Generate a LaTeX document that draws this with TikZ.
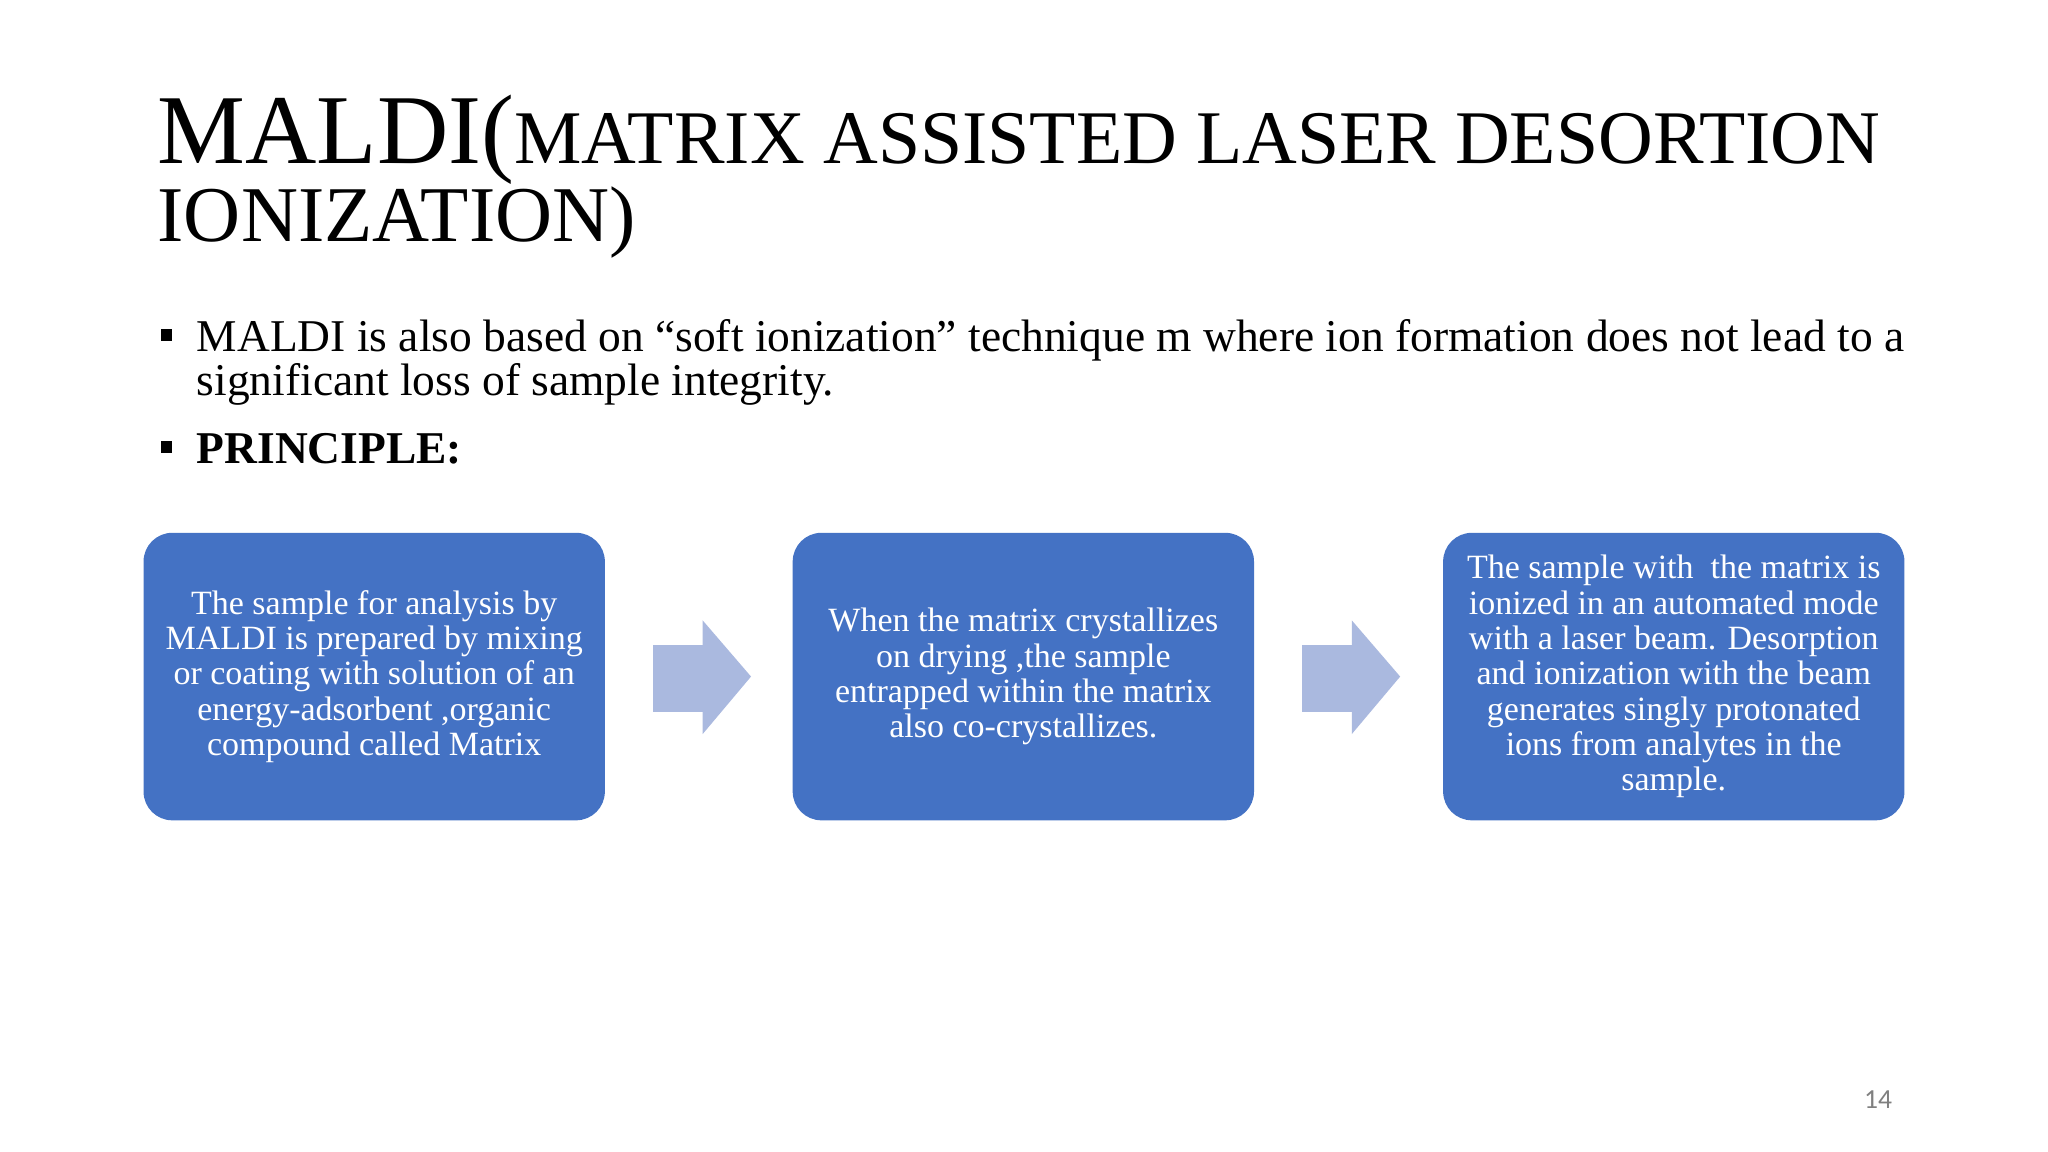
\documentclass[tikz,border=0pt]{standalone}
\usepackage{fontspec}
\setmainfont{Liberation Serif}
\newfontfamily\pgnum{Carlito}
\definecolor{boxblue}{HTML}{4472C4}
\definecolor{arrblue}{HTML}{AAB9DF}
\begin{document}
\begin{tikzpicture}[x=0.01cm,y=-0.01cm,
  stepbox/.style={fill=boxblue,rounded corners=0.22cm,minimum width=3.53cm,minimum height=2.2cm,inner sep=0pt},
  boxtext/.style={text=white,align=center,font=\fontsize{7.4pt}{7.7pt}\selectfont},
  bodytext/.style={anchor=base west,inner sep=0pt,font=\fontsize{9.9pt}{10pt}\selectfont}]
\useasboundingbox[fill=white] (0,0) rectangle (1568,882);
\node[anchor=base west,inner sep=0pt] (t1) at (120,125) {\fontsize{21.5pt}{24pt}\selectfont MALDI(\fontsize{16.5pt}{20pt}\selectfont MATRIX ASSISTED LASER DESORTION};
\node[anchor=base west,inner sep=0pt] (t2) at (120,185) {\fontsize{17.2pt}{20pt}\selectfont IONIZATION)};
\fill (123,252) rectangle (132,261);
\node[bodytext] (b1) at (150,269) {MALDI is also based on “soft ionization” technique m where ion formation does not lead to a};
\node[bodytext] (b1b) at (150,303) {significant loss of sample integrity.};
\fill (123,338) rectangle (132,347);
\node[bodytext] (b2) at (150,355) {\textbf{PRINCIPLE:}};
\node[stepbox] (s1) at (286.5,518) {};
\node[boxtext] at (s1) {The sample for analysis by\\MALDI is prepared by mixing\\or coating with solution of an\\energy-adsorbent ,organic\\compound called Matrix};
\node[stepbox] (s2) at (783.5,518) {};
\node[boxtext] at (s2) {When the matrix crystallizes\\on drying ,the sample\\entrapped within the matrix\\also co-crystallizes.};
\node[stepbox] (s3) at (1281.5,518) {};
\node[boxtext] at (s3) {The sample with \ the matrix is\\ionized in an automated mode\\with a laser beam. Desorption\\and ionization with the beam\\generates singly protonated\\ions from analytes in the\\sample.};
\fill[arrblue] (500,494) -- (538,494) -- (538,475) -- (575,518) -- (538,562) -- (538,545) -- (500,545) -- cycle;
\fill[arrblue] (997,494) -- (1035,494) -- (1035,475) -- (1072,518) -- (1035,562) -- (1035,545) -- (997,545) -- cycle;
\node[text=gray,font=\pgnum\fontsize{6pt}{7pt}\selectfont] (pg) at (1438,842) {14};
\end{tikzpicture}
\end{document}
